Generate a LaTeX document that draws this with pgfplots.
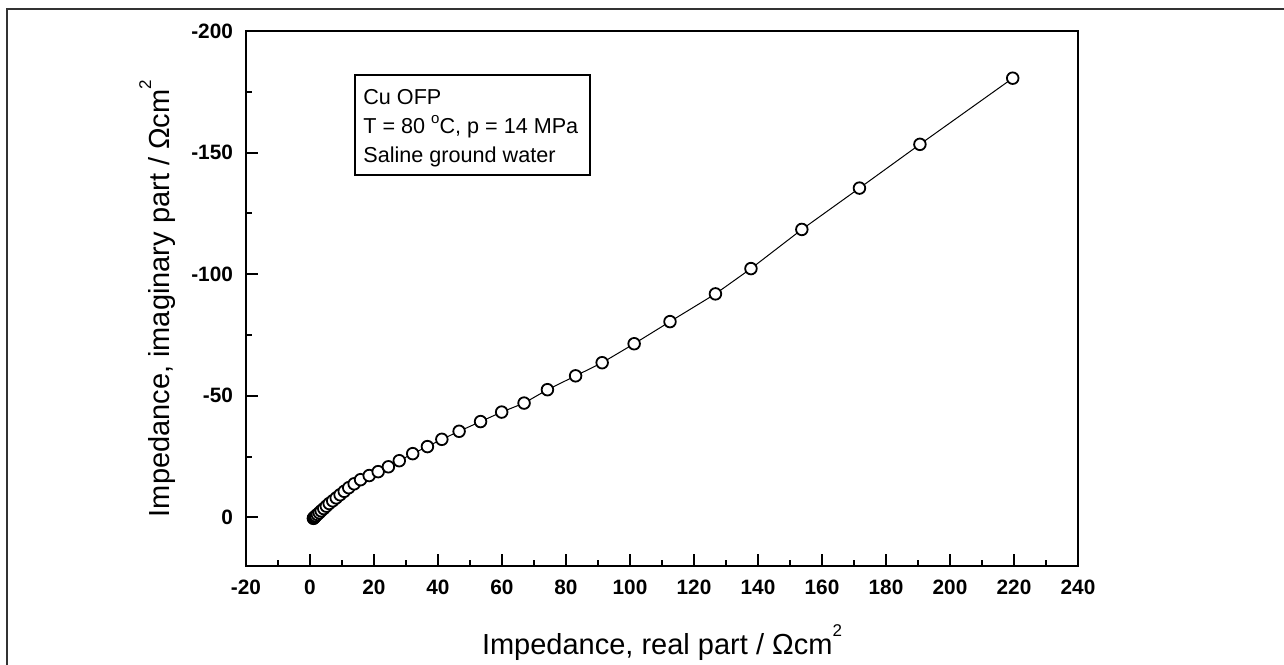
\documentclass[border=0pt]{standalone}
\usepackage{fontspec}
\setmainfont{Liberation Sans}
\usepackage{pgfplots}
\pgfplotsset{compat=1.18}
% small raised exponent used in the unit of the axis labels
\newcommand{\sqexp}{\raisebox{0.62em}{\fontsize{8.5}{9}\selectfont 2}}

\begin{document}
\begin{tikzpicture}[x=1pt,y=1pt]
\useasboundingbox (-123,-49) rectangle (519,283);
% outer frame
\draw[line width=1pt, black!80] (-119.35,278.35) rectangle (540,-70);
\begin{axis}[
  at={(0,0)}, anchor=south west,
  scale only axis, width=416pt, height=267.5pt,
  xmin=-20, xmax=240, ymin=-200, ymax=20,
  y dir=reverse,
  xtick={-20,0,...,240},
  xticklabels={-20,0,20,40,60,80,100,120,140,160,180,200,220,240},
  ytick={-200,-150,-100,-50,0},
  yticklabels={-200,-150,-100,-50,0},
  minor x tick num=1, minor y tick num=1,
  tick align=inside,
  xtick pos=left, ytick pos=left,
  major tick length=6pt, minor tick length=3.2pt,
  tick style={black, line width=1pt},
  axis line style={line width=1pt},
  ticklabel style={font=\fontsize{10.4}{12}\selectfont\bfseries},
  xticklabel style={yshift=-3.5pt},
  yticklabel style={xshift=-3pt},
  xlabel={Impedance, real part / Ωcm\sqexp},
  ylabel={Impedance, imaginary part / Ωcm\sqexp},
  xlabel style={font=\fontsize{14.5}{17}\selectfont, at={(axis description cs:0.5,-0.143)}, anchor=center},
  ylabel style={font=\fontsize{14.5}{17}\selectfont, at={(axis description cs:-0.1066,0.5)}, anchor=center},
]
\addplot[black, line width=0.5pt, mark=*, mark size=2.9pt,
  mark options={fill=white, draw=black, line width=0.9pt, solid}]
coordinates {
(1.05,0.4)(1.15,0.3)(1.3,0.1)(1.5,-0.2)(1.8,-0.6)(2.3,-1.2)(2.9,-1.9)(3.5,-2.7)
(4.3,-3.6)(5.1,-4.6)(6.0,-5.7)(7.1,-6.8)(8.2,-8.0)(9.4,-9.3)(10.7,-10.7)
(12.1,-12.2)(13.8,-13.8)(15.8,-15.5)(18.5,-17.2)(21.3,-18.8)(24.5,-20.8)
(27.9,-23.3)(32.1,-26.2)(36.7,-29.1)(41.2,-32.1)(46.6,-35.4)(53.3,-39.4)
(59.9,-43.3)(66.9,-47.0)(74.2,-52.5)(83.0,-58.2)(91.3,-63.6)(101.3,-71.4)
(112.5,-80.5)(126.7,-91.9)(137.8,-102.3)(153.7,-118.4)(171.7,-135.4)
(190.6,-153.4)(219.6,-180.6)
};
\end{axis}
% conditions box
\draw[line width=0.6pt, black] (54.5,245.5) rectangle (172,195.5);
\begin{scope}[every node/.style={anchor=base west, inner sep=0pt, font=\fontsize{10.8}{13}\selectfont}]
\node at (58.5,230.5) {Cu OFP};
\node at (58.5,216) {T = 80 \raisebox{0.5em}{\fontsize{7.5}{8}\selectfont o}C, p = 14 MPa};
\node at (58.5,201.5) {Saline ground water};
\end{scope}
\end{tikzpicture}
\end{document}
